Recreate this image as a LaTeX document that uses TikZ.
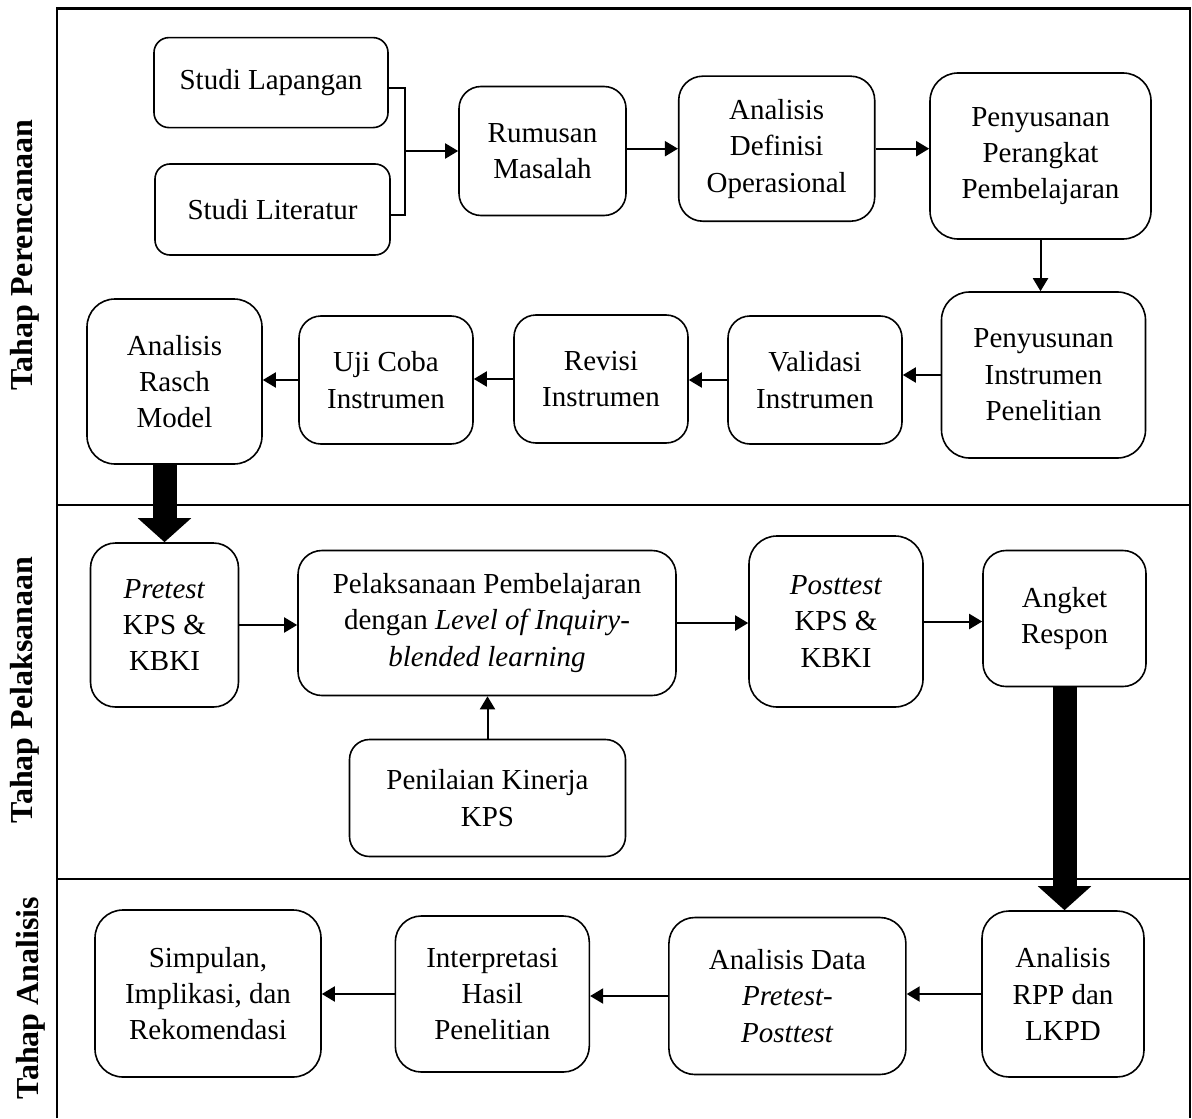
\documentclass[tikz,border=0pt]{standalone}
\usepackage{fontspec}
\setmainfont{Liberation Serif}
\usetikzlibrary{arrows.meta}
\begin{document}
\begin{tikzpicture}[x=0.5pt,y=-0.5pt,
  bx/.style n args={3}{draw, line width=0.8pt, rounded corners=#3, minimum width=#1, minimum height=#2,
     inner sep=0pt, align=center, font=\fontsize{14.5}{18.2}\selectfont},
  frame/.style={line width=1.3pt},
  arr/.style={line width=1pt, -{Triangle[length=6.5pt,width=7.5pt]}},
  brk/.style={line width=0.6pt},
  bigarr/.style={line width=12pt, -{Triangle[length=12pt,width=26pt]}},
  lab/.style={rotate=90, font=\fontsize{16}{19}\selectfont\bfseries, inner sep=0pt}]
\useasboundingbox (0,0) rectangle (1192,1118);
% frame
\draw[frame] (57,1118) -- (57,8.5) -- (1190,8.5) -- (1190,1118);
\draw[frame] (57,505) -- (1190,505);
\draw[frame] (57,879) -- (1190,879);
\node[lab] (l1) at (25,255) {Tahap Perencanaan};
\node[lab] (l2) at (25,690) {Tahap Pelaksanaan};
\node[lab] (l3) at (31,998) {Tahap Analisis};
% planning
\node[bx={117pt}{45pt}{7.5pt}] (lap) at (271,82.6) {Studi Lapangan};
\node[bx={117.5pt}{45.5pt}{7.5pt}] (lit) at (272.5,209.5) {Studi Literatur};
\node[bx={83.5pt}{64.5pt}{11pt}] (rum) at (542.5,151) {Rumusan\\Masalah};
\node[bx={98pt}{72.5pt}{12pt}] (def) at (776.7,148.7) {Analisis\\Definisi\\Operasional};
\node[bx={110.5pt}{83pt}{14pt}] (pera) at (1040.5,156) {Penyusanan\\Perangkat\\Pembelajaran};
\node[bx={102pt}{83pt}{14pt}] (pen) at (1043.5,375) {Penyusunan\\Instrumen\\Penelitian};
\node[bx={87pt}{64pt}{11pt}] (val) at (815,380) {Validasi\\Instrumen};
\node[bx={87pt}{64pt}{11pt}] (rev) at (601,379) {Revisi\\Instrumen};
\node[bx={87pt}{64pt}{11pt}] (uji) at (386,380) {Uji Coba\\Instrumen};
\node[bx={87.5pt}{82.5pt}{14pt}] (rasch) at (174.5,381.5) {Analisis\\Rasch\\Model};
\coordinate (bt) at (405,88);
\coordinate (bb) at (405,215);
\draw[brk] (lap.east |- bt) -- (bt) -- (bb) -- (lit.east |- bb);
\draw[arr] (rum.west -| bt) -- (rum.west);
\draw[arr] (rum.east |- def.west) -- (def.west);
\draw[arr] (def.east) -- (def.east -| pera.west);
\draw[arr] (pera.south) -- (pera.south |- pen.north);
\draw[arr] (pen.west) -- (pen.west -| val.east);
\draw[arr] (val.west) -- (val.west -| rev.east);
\draw[arr] (rev.west) -- (rev.west -| uji.east);
\draw[arr] (uji.west) -- (uji.west -| rasch.east);
% implementation
\node[bx={74pt}{82pt}{12.5pt}] (pre) at (164.5,625) {\textit{Pretest}\\KPS \&\\KBKI};
\node[bx={189pt}{72.5pt}{12pt}] (pel) at (487,623) {Pelaksanaan Pembelajaran\\dengan \textit{Level of Inquiry-}\\\textit{blended learning}};
\node[bx={138pt}{58.5pt}{10pt}] (pnl) at (487.5,798) {Penilaian Kinerja\\KPS};
\node[bx={87pt}{85.5pt}{14pt}] (post) at (836,621.5) {\textit{Posttest}\\KPS \&\\KBKI};
\node[bx={81.5pt}{68pt}{11.5pt}] (ang) at (1064.5,618.5) {Angket\\Respon};
\draw[bigarr] (pre.north |- rasch.south) -- (pre.north);
\draw[arr] (pre.east) -- (pre.east -| pel.west);
\draw[arr] (pnl.north) -- (pnl.north |- pel.south);
\draw[arr] (pel.east) -- (pel.east -| post.west);
\draw[arr] (post.east) -- (post.east -| ang.west);
% analysis
\node[bx={81pt}{83pt}{13.5pt}] (rpp) at (1063,994) {Analisis\\RPP dan\\LKPD};
\node[bx={118.5pt}{78.5pt}{13pt}] (dat) at (787.4,996) {Analisis Data\\\textit{Pretest-}\\\textit{Posttest}};
\node[bx={97pt}{78pt}{13pt}] (int) at (492.3,994) {Interpretasi\\Hasil\\Penelitian};
\node[bx={113pt}{83.5pt}{14pt}] (sim) at (208,993.5) {Simpulan,\\Implikasi, dan\\Rekomendasi};
\draw[bigarr] (ang.south) -- (ang.south |- rpp.north);
\draw[arr] (rpp.west) -- (rpp.west -| dat.east);
\draw[arr] (dat.west) -- (dat.west -| int.east);
\draw[arr] (int.west) -- (int.west -| sim.east);
\end{tikzpicture}
\end{document}
